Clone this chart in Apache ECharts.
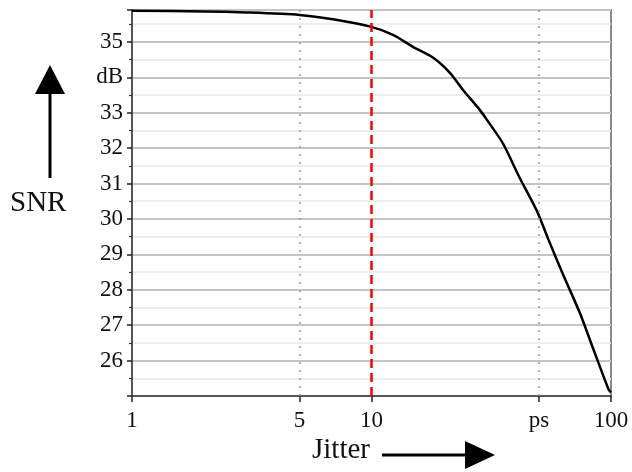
<!DOCTYPE html>
<html>
<head>
<meta charset="utf-8">
<script src="https://cdn.jsdelivr.net/npm/echarts@6/dist/echarts.min.js"></script>
<style>
html,body{margin:0;padding:0;background:#fff;}
#chart{width:632px;height:472px;}
</style>
</head>
<body>
<div id="chart"></div>
<script>
// jitter in ps, SNR in dB
var jitter = [1, 2, 3, 5, 7, 9.9, 12.3, 14.9, 18.1, 21.3, 24.1, 27.8, 30.4, 35.4, 41.5, 49, 54.7, 63, 74.5, 84.2, 97.5, 100];
var snr = [35.88, 35.86, 35.83, 35.76, 35.63, 35.43, 35.2, 34.86, 34.55, 34.12, 33.64, 33.15, 32.79, 32.13, 31.17, 30.23, 29.43, 28.44, 27.31, 26.34, 25.2, 25.1];
var xTicks = [1, 5, 10, 50, 100];
var xTickText = {1: '1', 5: '5', 10: '10', 50: 'ps', 100: '100'};
var markerX = 10;   // red dashed line
var dottedX = [5, 50];

var serif = '"Liberation Serif", "DejaVu Serif", serif';

var points = [];
for (var i = 0; i < jitter.length; i++) {
	points.push([jitter[i], snr[i]]);
}
var markData = [];
for (var k = 0; k < dottedX.length; k++) {
	markData.push({xAxis: dottedX[k], lineStyle: {color: '#999', type: [2, 6], width: 1.5}});
}
markData.push({xAxis: markerX, lineStyle: {color: '#f00', type: [9, 5], width: 2.5}});

var chart = echarts.init(document.getElementById('chart'));
var option = {
	animation: false,
	backgroundColor: '#fff',
	grid: {
		left: 132,
		right: 21,
		top: 10,
		bottom: 76,
		show: true,
		borderColor: '#8a8a8a',
		borderWidth: 2
	},
	xAxis: {
		type: 'log',
		logBase: 10,
		min: 1,
		max: 100,
		axisLine: {lineStyle: {color: '#555', width: 2}},
		axisTick: {show: true, length: 6, lineStyle: {color: '#222', width: 1.5}, customValues: xTicks},
		axisLabel: {
			customValues: xTicks,
			margin: 13,
			color: '#111',
			fontFamily: serif,
			fontSize: 23,
			formatter: function(v){ return xTickText[v] !== undefined ? xTickText[v] : ''; }
		},
		splitLine: {show: false},
		minorTick: {show: false}
	},
	yAxis: {
		type: 'value',
		min: 25,
		max: 35.9,
		interval: 1,
		axisLine: {show: true, lineStyle: {color: '#555', width: 2}},
		axisTick: {show: true, length: 5, lineStyle: {color: '#222', width: 1.5}},
		minorTick: {show: true, splitNumber: 2, length: 3, lineStyle: {color: '#333', width: 1.2}},
		axisLabel: {
			margin: 9,
			color: '#111',
			fontFamily: serif,
			fontSize: 23,
			showMinLabel: false,
			showMaxLabel: false,
			formatter: function(v){
				if (v === 34) return 'dB';
				if (v < 26 || v > 35 || Math.round(v) !== v) return '';
				return String(v);
			}
		},
		splitLine: {show: true, lineStyle: {color: '#c4c4c4', width: 2}},
		minorSplitLine: {show: true, lineStyle: {color: '#e8e8e8', width: 1.5}}
	},
	series: [{
		type: 'line',
		data: points,
		smooth: 0.25,
		showSymbol: false,
		lineStyle: {color: '#000', width: 2.5},
		markLine: {
			silent: true,
			symbol: 'none',
			label: {show: false},
			data: markData
		}
	}],
	graphic: [
		{type: 'text', left: 10, top: 189, style: {text: 'SNR', font: '29px ' + serif, fill: '#111'}},
		{type: 'line', shape: {x1: 50, y1: 178, x2: 50, y2: 88}, style: {stroke: '#000', lineWidth: 3}},
		{type: 'polygon', shape: {points: [[35, 94], [65, 94], [50, 65]]}, style: {fill: '#000'}},
		{type: 'text', left: 312, top: 436, style: {text: 'Jitter', font: '29px ' + serif, fill: '#111'}},
		{type: 'line', shape: {x1: 382, y1: 455, x2: 470, y2: 455}, style: {stroke: '#000', lineWidth: 3}},
		{type: 'polygon', shape: {points: [[465, 441], [465, 469], [495, 455]]}, style: {fill: '#000'}}
	]
};
chart.setOption(option);
</script>
</body>
</html>
